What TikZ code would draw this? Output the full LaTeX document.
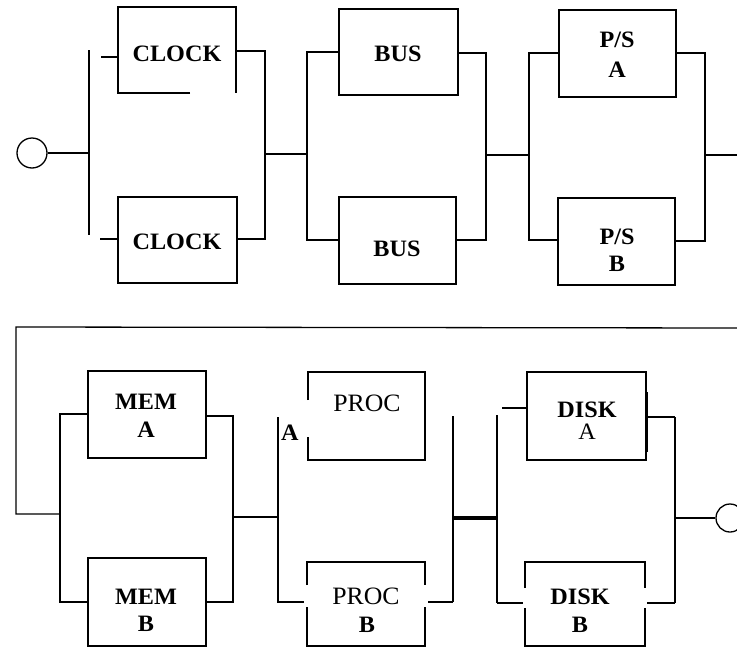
\documentclass[tikz,border=0pt]{standalone}
\usepackage{fontspec}
\setmainfont{Liberation Serif}[FakeStretch=1.03]
\usetikzlibrary{fit,calc}
\tikzset{
  wire/.style={line width=1.3pt},
  thickwire/.style={line width=2.4pt},
  boxline/.style={line width=1.6pt},
  blk/.style={inner sep=0pt, outer sep=0pt},
  bt/.style={anchor=base, inner sep=0pt, font=\fontsize{23.5}{26}\selectfont\bfseries},
  rt/.style={anchor=base, inner sep=0pt, font=\fontsize{25}{26}\selectfont},
  term/.style={circle, draw, line width=1.3pt, inner sep=0pt, minimum size=#1},
}
\begin{document}
\begin{tikzpicture}[x=1pt,y=-1pt]
\useasboundingbox (0,0) rectangle (737,648);
\clip (0,0) rectangle (737,648);
% ================= TOP ROW =================
\node[term=30pt] (in1) at (32,153) {};
\coordinate (j1) at (89,153);
\coordinate (j1t) at (89,50);
\coordinate (j1b) at (89,235);
\draw[wire] (in1) -- (j1);
\draw[wire] (j1t) -- (j1b);
% CLOCK boxes
\node[blk, fit={(118,7) (236,93)}] (clk1) {};
\draw[boxline] ($(clk1.south west)+(72,0)$) -- (clk1.south west) -- (clk1.north west) -- (clk1.north east) -- (clk1.south east);
\draw[line width=2.4pt] (clk1.north west) -- (clk1.north east);
\node[blk, draw, boxline, fit={(118,197) (237,283)}] (clk2) {};
\node[bt] (clk1t) at (177,61) {CLOCK};
\node[bt] (clk2t) at (177,249) {CLOCK};
\coordinate (s1a) at (101,57);
\coordinate (s1b) at (100,239);
\draw[wire] (s1a) -- (s1a -| clk1.west);
\draw[wire] (s1b) -- (s1b -| clk2.west);
\coordinate (k1t) at (265,51);
\coordinate (k1b) at (265,239);
\draw[wire] (k1t -| clk1.east) -- (k1t) -- (k1b) -- (k1b -| clk2.east);
\coordinate (m1) at (265,154);
\coordinate (j2) at (307,154);
\draw[wire] (m1) -- (j2);
% BUS boxes
\node[blk, draw, boxline, fit={(339,9) (458,95)}] (bus1) {};
\node[blk, draw, boxline, fit={(339,197) (456,284)}] (bus2) {};
\node[bt] (bus1t) at (398,61) {BUS};
\node[bt] (bus2t) at (397,256) {BUS};
\coordinate (b1t) at (307,52);
\coordinate (b1b) at (307,240);
\draw[wire] (b1t -| bus1.west) -- (b1t) -- (b1b) -- (b1b -| bus2.west);
\coordinate (r2t) at (486,53);
\coordinate (r2b) at (486,240);
\draw[wire] (r2t -| bus1.east) -- (r2t) -- (r2b) -- (r2b -| bus2.east);
\coordinate (m2) at (486,155);
\coordinate (j3) at (529,155);
\draw[wire] (m2) -- (j3);
% P/S boxes
\node[blk, draw, boxline, fit={(559,10) (676,97)}] (ps1) {};
\node[blk, draw, boxline, fit={(558,198) (675,285)}] (ps2) {};
\node[bt] (ps1t) at (617,47) {P/S};
\node[bt] (ps1u) at (617,77) {A};
\node[bt] (ps2t) at (617,244) {P/S};
\node[bt] (ps2u) at (617,271) {B};
\coordinate (p1t) at (529,53);
\coordinate (p1b) at (529,240);
\draw[wire] (p1t -| ps1.west) -- (p1t) -- (p1b) -- (p1b -| ps2.west);
\coordinate (r3t) at (705,53);
\coordinate (r3b) at (705,241);
\draw[wire] (r3t -| ps1.east) -- (r3t) -- (r3b) -- (r3b -| ps2.east);
\coordinate (m3) at (705,155);
\coordinate (out1) at (737,155);
\draw[wire] (m3) -- (out1);
% ================= RETURN LINE =================
\coordinate (ret1) at (737,328);
\coordinate (ret2) at (16,327);
\coordinate (ret3) at (16,514);
\coordinate (j4) at (60,514);
\draw[wire] (ret1) -- (ret2) -- (ret3) -- (j4);
% ================= BOTTOM ROW =================
% MEM boxes
\node[blk, draw, boxline, fit={(88,371) (206,458)}] (mem1) {};
\node[blk, draw, boxline, fit={(88,558) (206,646)}] (mem2) {};
\node[bt] (mem1t) at (146,409) {MEM};
\node[bt] (mem1u) at (146,437) {A};
\node[bt] (mem2t) at (146,604) {MEM};
\node[bt] (mem2u) at (146,631) {B};
\coordinate (q1t) at (60,414);
\coordinate (q1b) at (60,602);
\draw[wire] (q1t -| mem1.west) -- (q1t) -- (q1b) -- (q1b -| mem2.west);
\coordinate (r4t) at (233,416);
\coordinate (r4b) at (233,602);
\draw[wire] (r4t -| mem1.east) -- (r4t) -- (r4b) -- (r4b -| mem2.east);
\coordinate (m4) at (233,517);
\coordinate (j5) at (278,517);
\draw[wire] (m4) -- (j5);
% PROC boxes
\node[blk, fit={(308,372) (425,460)}] (proc1) {};
\draw[boxline] ($(proc1.north west)+(0,28)$) -- (proc1.north west) -- (proc1.north east) -- (proc1.south east) -- (proc1.south west) -- ($(proc1.north west)+(0,65)$);
\draw[line width=2.4pt] ($(proc1.north east)+(0,20)$) -- ($(proc1.north east)+(0,80)$);
\node[blk, fit={(307,562) (425,646)}] (proc2) {};
\draw[boxline] ($(proc2.north west)+(0,23)$) -- (proc2.north west) -- (proc2.north east) -- ($(proc2.north east)+(0,23)$);
\draw[boxline] ($(proc2.north west)+(0,45)$) -- (proc2.south west) -- (proc2.south east) -- ($(proc2.north east)+(0,45)$);
\node[rt] (proc1t) at (367,411) {PROC};
\node[rt] (proc2t) at (366,604) {PROC};
\node[bt] (proc2u) at (367,632) {B};
\node[bt, anchor=base west] (procA) at (281,440) {A};
\coordinate (t1t) at (278,417);
\coordinate (t1b) at (278,602);
\draw[wire] (t1t) -- (t1b) -- ($(t1b -| proc2.west)+(-3,0)$);
\coordinate (r5t) at (453,416);
\coordinate (r5b) at (453,602);
\draw[thickwire] (r5t) -- (r5b);
\draw[wire] ($(r5b -| proc2.east)+(3,0)$) -- (r5b);
\coordinate (m5) at (453,518);
\coordinate (j6) at (497,518);
\draw[line width=4pt] (m5) -- (j6);
% DISK boxes
\node[blk, draw, boxline, fit={(527,372) (646,460)}] (disk1) {};
\draw[line width=3pt] ($(disk1.north east)+(0,20)$) -- ($(disk1.north east)+(0,80)$);
\node[blk, fit={(525,562) (645,646)}] (disk2) {};
\draw[boxline] ($(disk2.north west)+(0,26)$) -- (disk2.north west) -- (disk2.north east) -- ($(disk2.north east)+(0,26)$);
\draw[boxline] ($(disk2.north west)+(0,46)$) -- (disk2.south west) -- (disk2.south east) -- ($(disk2.north east)+(0,46)$);
\node[bt] (disk1t) at (587,417) {DISK};
\node[rt, font=\fontsize{23.5}{26}\selectfont] (disk1u) at (587,439) {A};
\node[bt] (disk2t) at (580,604) {DISK};
\node[bt] (disk2u) at (580,632) {B};
\coordinate (u1t) at (497,415);
\coordinate (u1b) at (497,603);
\draw[thickwire] (u1t) -- (u1b);
\draw[wire] (u1b) -- ($(u1b -| disk2.west)+(-2,0)$);
\coordinate (s6) at (502,408);
\draw[wire] (s6) -- (s6 -| disk1.west);
\coordinate (r6t) at (675,417);
\coordinate (r6b) at (675,603);
\draw[wire] (r6t -| disk1.east) -- (r6t);
\draw[thickwire] (r6t) -- (r6b);
\draw[wire] (r6b) -- ($(r6b -| disk2.east)+(2,0)$);
\node[term=28pt] (out2) at (730,518) {};
\coordinate (m6) at (675,518);
\draw[wire] (m6) -- (out2);
\end{tikzpicture}
\end{document}
